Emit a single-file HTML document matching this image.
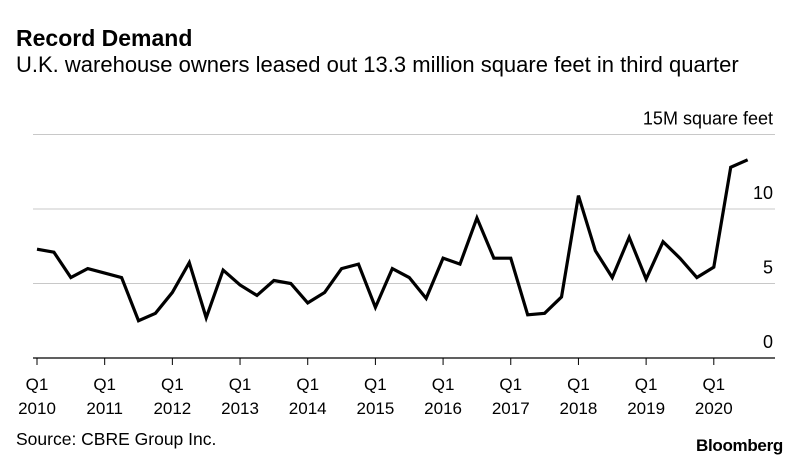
<!DOCTYPE html>
<html><head><meta charset="utf-8"><style>
body{margin:0;background:#fff;font-family:"Liberation Sans",sans-serif;}
#wrap{position:relative;width:800px;height:465px;overflow:hidden;}
.t{position:absolute;white-space:nowrap;color:#000;}
</style></head><body>
<div id="wrap">
<div class="t" style="left:16px;top:25px;font-size:23px;font-weight:bold;">Record Demand</div>
<div class="t" style="left:16px;top:52px;font-size:22px">U.K. warehouse owners leased out 13.3 million square feet in third quarter</div>
<div class="t" style="left:16px;top:429px;font-size:17.5px">Source: CBRE Group Inc.</div>
<div class="t" style="right:17px;top:436px;font-size:17px;font-weight:bold;letter-spacing:-0.3px">Bloomberg</div>
<svg id="c" width="800" height="465" style="position:absolute;left:0;top:0"></svg>
</div>
<script>
const values=[7.3,7.1,5.4,6.0,5.7,5.4,2.5,3.0,4.4,6.4,2.7,5.9,4.9,4.2,5.2,5.0,3.7,4.4,6.0,6.3,3.4,6.0,5.4,4.0,6.7,6.3,9.4,6.7,6.7,2.9,3.0,4.1,10.9,7.2,5.4,8.1,5.3,7.8,6.7,5.4,6.1,12.8,13.3];
const yTicks=[0,5,10,15];
const yTickLabels=["0","5","10","15M square feet"];
const years=["2010","2011","2012","2013","2014","2015","2016","2017","2018","2019","2020"];
const svg=document.getElementById('c');const NS='http://www.w3.org/2000/svg';
const x0=37,qw=16.92,L=33,R=775;
const xs=i=>x0+i*qw;const ys=v=>358-v*14.9;
function el(t,a){const e=document.createElementNS(NS,t);for(const k in a)e.setAttribute(k,a[k]);svg.appendChild(e);return e;}
yTicks.forEach((v,i)=>{
 const g=el('line',{x1:L,x2:R,y1:ys(v),y2:ys(v),stroke:v===0?'#000':'#c8c8c8','stroke-width':v===0?1.2:1});
 
 
 const t=el('text',{x:773,y:ys(v)-10,'text-anchor':'end','font-size':18,'font-family':'Liberation Sans, sans-serif'});
 t.textContent=yTickLabels[i];
 
 
});
years.forEach((y,i)=>{
 const x=xs(i*4);
 const tk=el('line',{x1:x,x2:x,y1:358,y2:365,stroke:'#000','stroke-width':1});
 
 
 const a=el('text',{x:x,y:390,'text-anchor':'middle','font-size':17,'font-family':'Liberation Sans, sans-serif'});a.textContent='Q1';
 
 
 const b=el('text',{x:x,y:414,'text-anchor':'middle','font-size':17,'font-family':'Liberation Sans, sans-serif'});b.textContent=y;
 
 
});
const p=el('polyline',{points:values.map((v,i)=>xs(i)+','+ys(v)).join(' '),fill:'none',stroke:'#000','stroke-width':3.2,'stroke-linejoin':'miter'});


</script>
</body></html>
